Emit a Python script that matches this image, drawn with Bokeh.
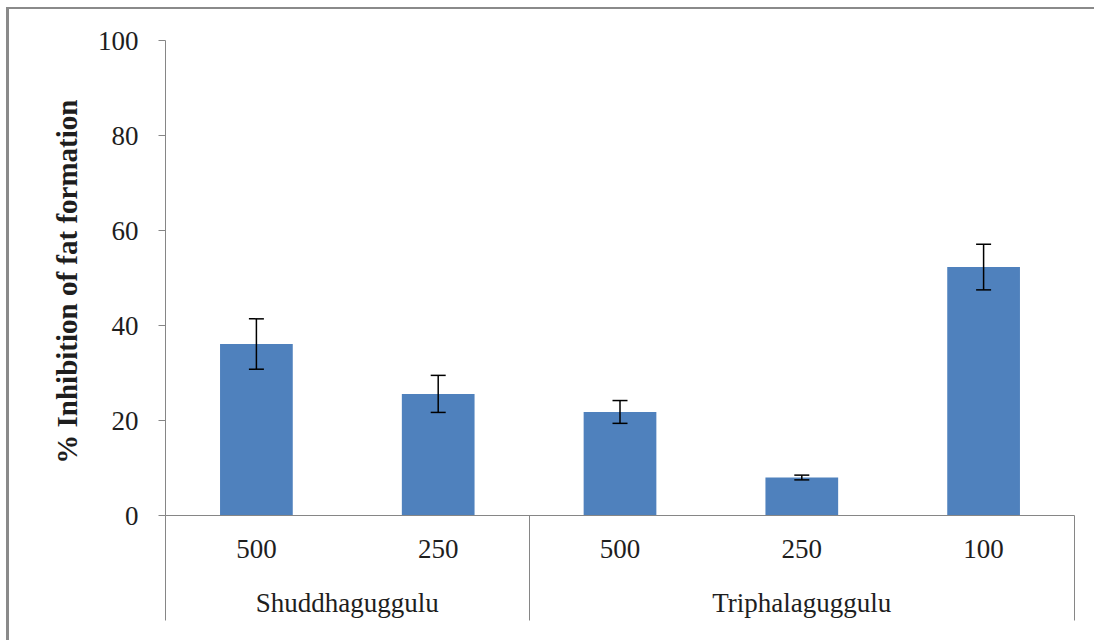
from bokeh.plotting import figure
from bokeh.models import Range1d, FixedTicker, Whisker, TeeHead, ColumnDataSource, LinearAxis
from bokeh.embed import file_html
from bokeh.resources import INLINE

# ---- data ----
groups = ["Shuddhaguggulu", "Shuddhaguggulu", "Triphalaguggulu", "Triphalaguggulu", "Triphalaguggulu"]
doses = ["500", "250", "500", "250", "100"]
inhibition = [36.1, 25.6, 21.8, 8.0, 52.3]
errors = [5.3, 3.9, 2.4, 0.5, 4.8]
y_ticks = [0, 20, 40, 60, 80, 100]
y_title = "% Inhibition  of fat formation"

n = len(doses)
xs = [i + 0.5 for i in range(n)]

# group extents
group_names = []
for g in groups:
    if g not in group_names:
        group_names.append(g)
group_start = [groups.index(g) for g in group_names]
group_end = [len(groups) - groups[::-1].index(g) for g in group_names]
group_center = [(s + e) / 2 for s, e in zip(group_start, group_end)]
boundaries = sorted(set(group_start + group_end))

AXIS_COLOR = "#868686"
TEXT_COLOR = "#1e1e1e"
FONT = "Liberation Serif"
SEP_LEN = 105

p = figure(width=1088, height=633, output_backend="svg", toolbar_location=None,
           x_range=Range1d(0, n), y_range=Range1d(min(y_ticks), max(y_ticks)),
           x_axis_location=None,
           min_border_left=156, min_border_right=23, min_border_top=31, min_border_bottom=127)
p.styles = {"margin-left": "6px", "margin-top": "7px",
            "border-left": "3px solid #8a8a8a", "border-top": "2px solid #8a8a8a"}
p.grid.visible = False
p.outline_line_color = None
p.background_fill_color = "white"
p.border_fill_color = "white"

# value axis
ya = p.yaxis[0]
ya.ticker = FixedTicker(ticks=y_ticks)
ya.minor_tick_line_color = None
ya.axis_line_color = AXIS_COLOR
ya.major_tick_line_color = AXIS_COLOR
ya.major_tick_out = 7
ya.major_tick_in = 0
ya.major_label_standoff = 20
ya.major_label_text_font = FONT
ya.major_label_text_font_size = "27px"
ya.major_label_text_color = TEXT_COLOR
ya.axis_label = y_title
ya.axis_label_text_font = FONT
ya.axis_label_text_font_style = "bold"
ya.axis_label_text_font_size = "29px"
ya.axis_label_text_color = TEXT_COLOR
ya.axis_label_standoff = 12

# category axis: dose labels at category centres, separators (minor ticks) at group boundaries
xa = LinearAxis(ticker=FixedTicker(ticks=xs, minor_ticks=boundaries),
                major_label_overrides={x: d for x, d in zip(xs, doses)})
xa.axis_line_color = AXIS_COLOR
xa.major_tick_line_color = None
xa.major_tick_out = 0
xa.major_tick_in = 0
xa.minor_tick_line_color = AXIS_COLOR
xa.minor_tick_out = SEP_LEN
xa.minor_tick_in = 0
xa.major_label_standoff = 24 - SEP_LEN
xa.major_label_text_font = FONT
xa.major_label_text_font_size = "27px"
xa.major_label_text_color = TEXT_COLOR
p.add_layout(xa, "below")

# group labels
ga = LinearAxis(ticker=FixedTicker(ticks=group_center, minor_ticks=[]),
                major_label_overrides={c: g for c, g in zip(group_center, group_names)})
ga.axis_line_color = None
ga.major_tick_line_color = None
ga.minor_tick_line_color = None
ga.major_tick_out = 0
ga.major_tick_in = 0
ga.major_label_standoff = 27
ga.major_label_text_font = FONT
ga.major_label_text_font_size = "27px"
ga.major_label_text_color = TEXT_COLOR
p.add_layout(ga, "below")

src = ColumnDataSource(dict(x=xs, top=inhibition,
                            upper=[v + e for v, e in zip(inhibition, errors)],
                            lower=[v - e for v, e in zip(inhibition, errors)]))

p.vbar(x="x", top="top", bottom=0, width=0.4, source=src,
       fill_color="#4F81BD", line_color=None)

w = Whisker(base="x", upper="upper", lower="lower", source=src, level="overlay",
            line_color="black", line_width=1.5,
            upper_head=TeeHead(size=15, line_color="black", line_width=1.5),
            lower_head=TeeHead(size=15, line_color="black", line_width=1.5))
p.add_layout(w)

open("out.html", "w").write(file_html(p, INLINE))
